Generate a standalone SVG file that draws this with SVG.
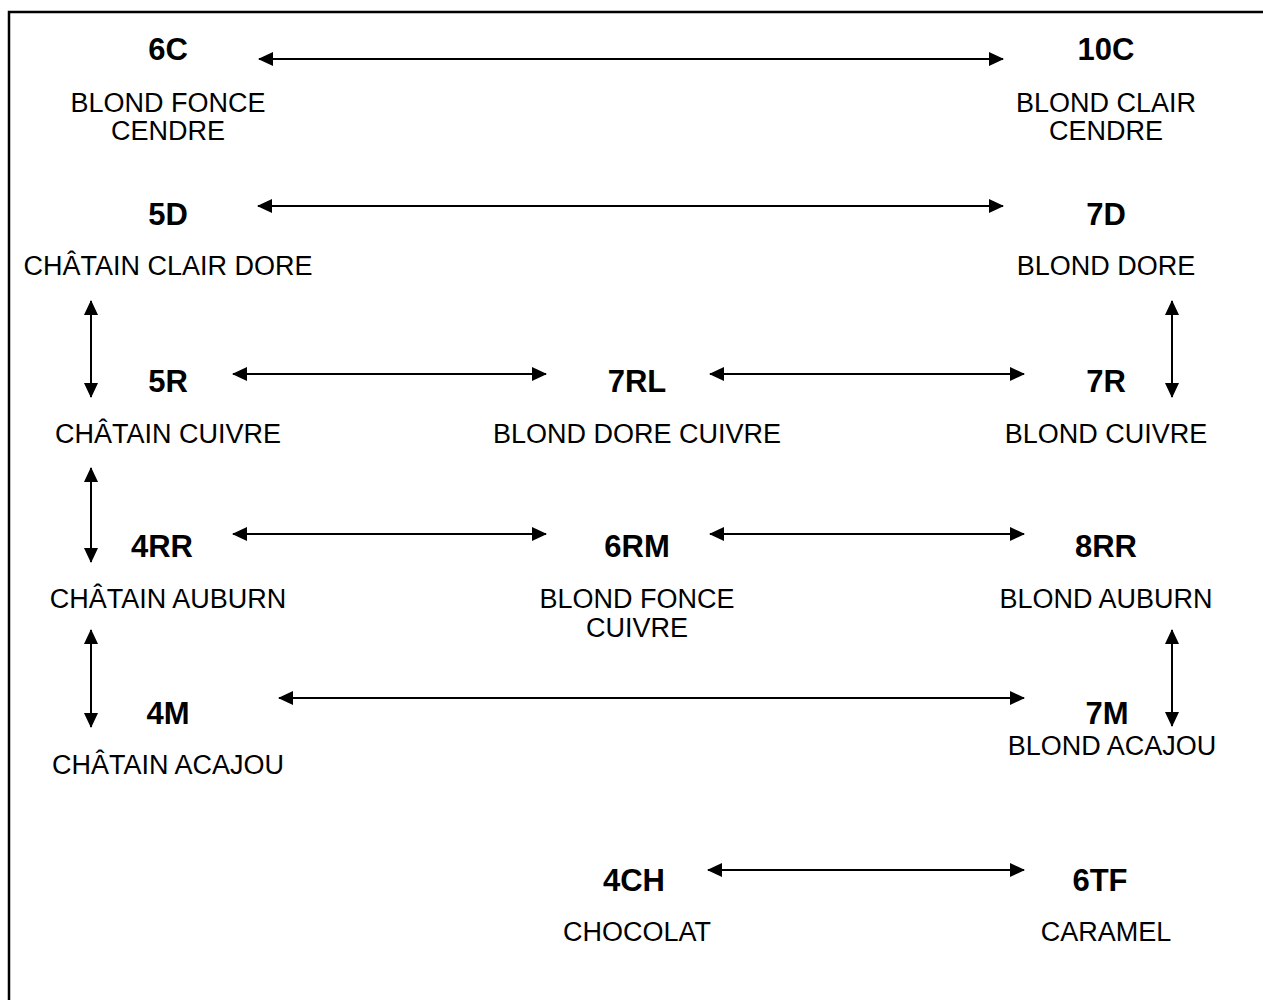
<svg xmlns="http://www.w3.org/2000/svg" width="1263" height="1000" viewBox="0 0 1263 1000">
<style>
.c{font-family:"Liberation Sans",Arial,sans-serif;font-size:31px;font-weight:bold;fill:#000;text-anchor:middle}
.l{font-family:"Liberation Sans",Arial,sans-serif;font-size:27px;fill:#000;text-anchor:middle}
.a{stroke:#000;stroke-width:2;fill:none;marker-start:url(#h);marker-end:url(#h)}
</style>
<defs>
<marker id="h" viewBox="0 0 15 14" refX="14" refY="7" markerWidth="15" markerHeight="14" markerUnits="userSpaceOnUse" orient="auto-start-reverse">
<path d="M0,0 L15,7 L0,14 Z" fill="#000"/>
</marker>
</defs>
<rect width="1263" height="1000" fill="#fff"/>
<path d="M9,1000 V12 H1263" stroke="#000" stroke-width="2.5" fill="none"/>
<g id="connectors">
<line class="a" x1="259" y1="59" x2="1003" y2="59"/>
<line class="a" x1="258" y1="206" x2="1003" y2="206"/>
<line class="a" x1="233" y1="374" x2="546" y2="374"/>
<line class="a" x1="710" y1="374" x2="1024" y2="374"/>
<line class="a" x1="233" y1="534" x2="546" y2="534"/>
<line class="a" x1="710" y1="534" x2="1024" y2="534"/>
<line class="a" x1="279" y1="698" x2="1024" y2="698"/>
<line class="a" x1="708" y1="870" x2="1024" y2="870"/>
<line class="a" x1="91" y1="301" x2="91" y2="397"/>
<line class="a" x1="91" y1="468" x2="91" y2="562"/>
<line class="a" x1="91" y1="630" x2="91" y2="727"/>
<line class="a" x1="1172" y1="301" x2="1172" y2="397"/>
<line class="a" x1="1172" y1="630" x2="1172" y2="726"/>
</g>
<g id="n6C"><text class="c" x="168" y="60">6C</text><text class="l" x="168" y="112">BLOND FONCE</text><text class="l" x="168" y="140">CENDRE</text></g>
<g id="n10C"><text class="c" x="1106" y="60">10C</text><text class="l" x="1106" y="112">BLOND CLAIR</text><text class="l" x="1106" y="140">CENDRE</text></g>
<g id="n5D"><text class="c" x="168" y="225">5D</text><text class="l" x="168" y="275">CHÂTAIN CLAIR DORE</text></g>
<g id="n7D"><text class="c" x="1106" y="225">7D</text><text class="l" x="1106" y="275">BLOND DORE</text></g>
<g id="n5R"><text class="c" x="168" y="392">5R</text><text class="l" x="168" y="443">CHÂTAIN CUIVRE</text></g>
<g id="n7RL"><text class="c" x="637" y="392">7RL</text><text class="l" x="637" y="443">BLOND DORE CUIVRE</text></g>
<g id="n7R"><text class="c" x="1106" y="392">7R</text><text class="l" x="1106" y="443">BLOND CUIVRE</text></g>
<g id="n4RR"><text class="c" x="162" y="557">4RR</text><text class="l" x="168" y="608">CHÂTAIN AUBURN</text></g>
<g id="n6RM"><text class="c" x="637" y="557">6RM</text><text class="l" x="637" y="608">BLOND FONCE</text><text class="l" x="637" y="637">CUIVRE</text></g>
<g id="n8RR"><text class="c" x="1106" y="557">8RR</text><text class="l" x="1106" y="608">BLOND AUBURN</text></g>
<g id="n4M"><text class="c" x="168" y="724">4M</text><text class="l" x="168" y="774">CHÂTAIN ACAJOU</text></g>
<g id="n7M"><text class="c" x="1107" y="724">7M</text><text class="l" x="1112" y="755">BLOND ACAJOU</text></g>
<g id="n4CH"><text class="c" x="634" y="891">4CH</text><text class="l" x="637" y="941">CHOCOLAT</text></g>
<g id="n6TF"><text class="c" x="1100" y="891">6TF</text><text class="l" x="1106" y="941">CARAMEL</text></g>
</svg>
